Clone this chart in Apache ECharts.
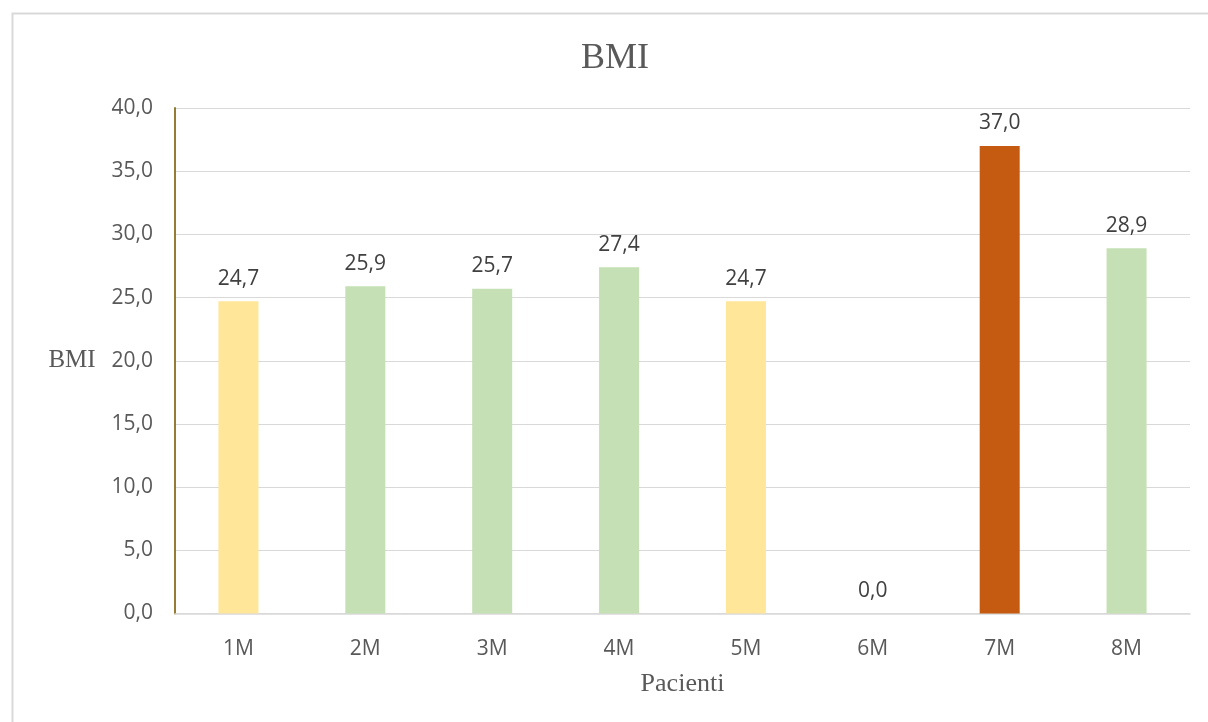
<!DOCTYPE html>
<html>
<head>
<meta charset="utf-8">
<script src="https://cdn.jsdelivr.net/npm/echarts@6/dist/echarts.min.js"></script>
<style>
  html, body { margin: 0; padding: 0; background: #ffffff; }
  #chart { width: 1208px; height: 722px; }
</style>
</head>
<body>
<div id="chart"></div>
<script>
// Patients and their BMI values
const categories = ['1M', '2M', '3M', '4M', '5M', '6M', '7M', '8M'];
const bmiValues = [24.7, 25.9, 25.7, 27.4, 24.7, 0.0, 37.0, 28.9];
const barColors = ['#ffe699', '#c5e0b4', '#c5e0b4', '#c5e0b4', '#ffe699', '#c5e0b4', '#c55a11', '#c5e0b4'];
const yTicks = { min: 0, max: 40, interval: 5 };

const fmt = v => Number(v).toFixed(1).replace('.', ',');
const sansFont = "'Open Sans', 'Noto Sans', sans-serif";
const serifFont = "'Liberation Serif', 'DejaVu Serif', serif";

const chart = echarts.init(document.getElementById('chart'), null, { renderer: 'canvas' });

chart.setOption({
  animation: false,
  backgroundColor: '#ffffff',
  graphic: [{
    type: 'rect',
    left: 10, top: 11,
    shape: { width: 1300, height: 800 },
    style: { fill: 'none', stroke: '#d9d9d9', lineWidth: 2 },
    silent: true
  }],
  title: {
    text: 'BMI',
    left: 610,
    textAlign: 'center',
    top: 36,
    textStyle: { fontFamily: serifFont, fontSize: 36, fontWeight: 'normal', color: '#595959' }
  },
  grid: { left: 175, right: 18, top: 108, bottom: 108.5, containLabel: false },
  xAxis: {
    type: 'category',
    data: categories,
    name: 'Pacienti',
    nameLocation: 'middle',
    nameGap: 58,
    nameTextStyle: { fontFamily: serifFont, fontSize: 26, color: '#595959' },
    axisLine: { lineStyle: { color: '#d9d9d9', width: 1.5 } },
    axisTick: { show: false },
    axisLabel: { fontFamily: sansFont, fontSize: 21, color: '#595959', margin: 25 }
  },
  yAxis: {
    type: 'value',
    min: yTicks.min, max: yTicks.max, interval: yTicks.interval,
    name: 'BMI',
    nameLocation: 'middle',
    nameGap: 103,
    nameRotate: 0,
    nameTextStyle: { fontFamily: serifFont, fontSize: 25, color: '#595959', align: 'center', verticalAlign: 'middle' },
    axisLine: { show: true, lineStyle: { color: '#8a6d1e', width: 1.8 } },
    axisTick: { show: false },
    splitLine: { lineStyle: { color: '#d9d9d9', width: 1.2 } },
    axisLabel: { fontFamily: sansFont, fontSize: 21, color: '#595959', margin: 22, formatter: fmt }
  },
  series: [{
    type: 'bar',
    barWidth: 40,
    data: bmiValues.map((v, i) => ({ value: v, itemStyle: { color: barColors[i] } })),
    label: {
      show: true,
      position: 'top',
      distance: 12,
      fontFamily: sansFont,
      fontSize: 21,
      color: '#404040',
      formatter: p => fmt(p.value)
    }
  }]
});
</script>
</body>
</html>
